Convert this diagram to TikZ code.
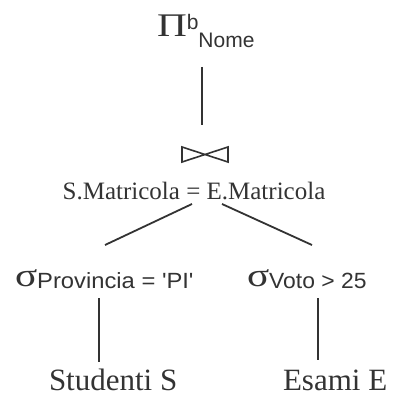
\documentclass[tikz,border=0pt]{standalone}
\usepackage{fontspec}
\setmainfont{Liberation Serif}
\newfontfamily\sansf{Liberation Sans}
\definecolor{ink}{HTML}{333333}
\begin{document}
\begin{tikzpicture}[x=1pt,y=-1pt,
  txt/.style={inner sep=0pt, outer sep=0pt, text=ink, anchor=base west},
  edge/.style={draw=ink, line width=1.8pt}]
\useasboundingbox (0,0) rectangle (392,396);
% projection
\node[txt] (proj) at (157,37) {\fontsize{33}{33}\selectfont\scalebox{1.25}[1]{Π}\sansf\fontsize{21}{21}\selectfont\raisebox{7pt}{b}\raisebox{-11pt}{Nome}};
\coordinate (p1) at (202,67);
\coordinate (p2) at (202,125);
\draw[edge] (p1) -- (p2);
% join symbol
\coordinate (jl1) at (182,147);
\coordinate (jl2) at (182,162);
\coordinate (jr1) at (228,147);
\coordinate (jr2) at (228,162);
\draw[ink, line width=1.6pt, line join=miter] (jl1) -- (jr2) -- (jr1) -- (jl2) -- cycle;
\node[txt, anchor=base] (cond) at (194,199) {\fontsize{25}{25}\selectfont S.Matricola = E.Matricola};
\coordinate (j1) at (192,204);
\coordinate (j2) at (222,204);
\coordinate (l1) at (105,245);
\coordinate (r1) at (312,245);
\draw[edge] (j1) -- (l1);
\draw[edge] (j2) -- (r1);
% selections
\node[txt] (selP) at (15,286) {\fontsize{33}{33}\selectfont\scalebox{1.25}[1]{σ}\sansf\fontsize{22}{22}\selectfont\raisebox{-2pt}{\scalebox{1.08}[1]{Provincia = 'PI'}}};
\node[txt] (selV) at (247,286) {\fontsize{33}{33}\selectfont\scalebox{1.25}[1]{σ}\sansf\fontsize{22}{22}\selectfont\raisebox{-2pt}{\scalebox{1.04}[1]{Voto > 25}}};
\coordinate (s1) at (99,298);
\coordinate (s2) at (99,362);
\coordinate (v1) at (318,298);
\coordinate (v2) at (318,360);
\draw[edge] (s1) -- (s2);
\draw[edge] (v1) -- (v2);
% relations
\node[txt] (stud) at (49,390) {\fontsize{31}{31}\selectfont Studenti S};
\node[txt] (esam) at (283,390) {\fontsize{31}{31}\selectfont Esami E};
\end{tikzpicture}
\end{document}
